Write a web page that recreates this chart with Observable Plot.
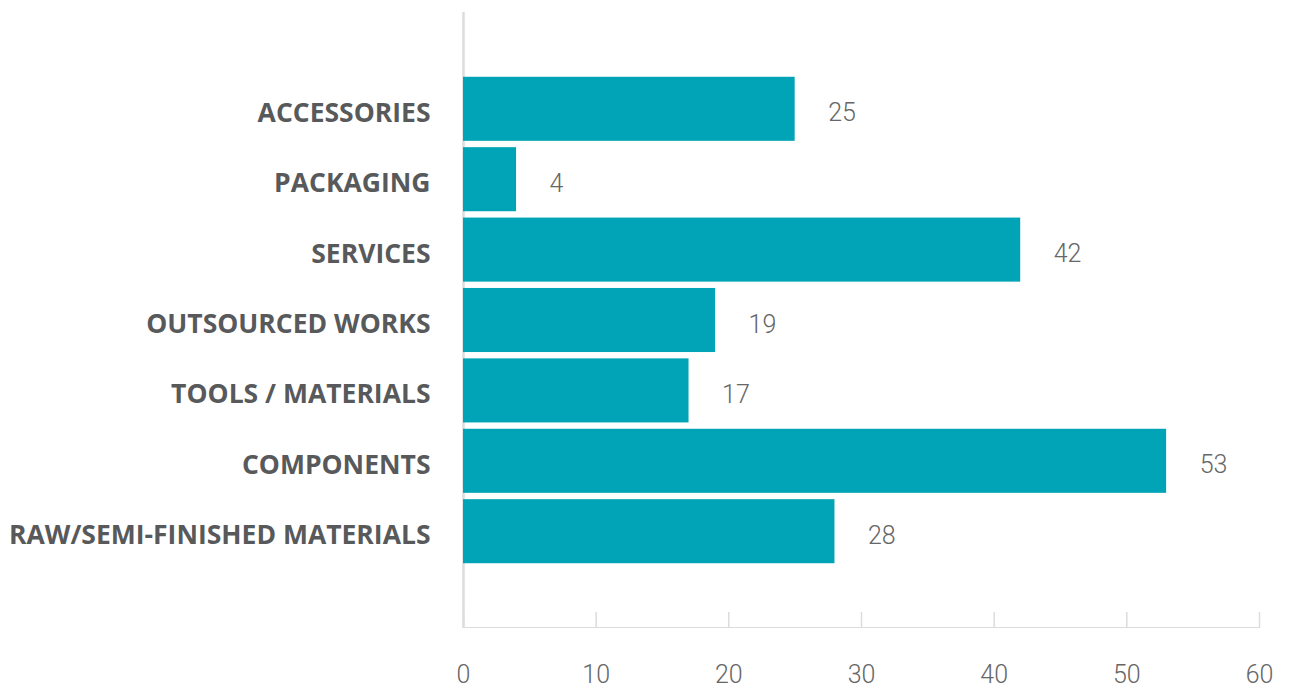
<!DOCTYPE html>
<html>
<head>
<meta charset="utf-8">
<script src="https://cdn.jsdelivr.net/npm/d3@7"></script>
<script src="https://cdn.jsdelivr.net/npm/@observablehq/plot@0.6"></script>
<style>
  html, body { margin: 0; padding: 0; background: #fff; }
  #chart svg { display: block; }
</style>
</head>
<body>
<div id="chart"></div>
<script>
const categories = [
  "ACCESSORIES",
  "PACKAGING",
  "SERVICES",
  "OUTSOURCED WORKS",
  "TOOLS / MATERIALS",
  "COMPONENTS",
  "RAW/SEMI-FINISHED MATERIALS"
];
const values = [25, 4, 42, 19, 17, 53, 28];
const xTicks = [0, 10, 20, 30, 40, 50, 60];

const data = categories.map((c, i) => ({category: c, value: values[i]}));

const chart = Plot.plot({
  width: 1296,
  height: 688,
  marginTop: 12,
  marginBottom: 60,
  marginLeft: 463,
  marginRight: 37,
  style: {background: "#fff", overflow: "visible"},
  x: {domain: [0, 60]},
  y: {domain: categories, paddingInner: 0.09, paddingOuter: 0.92, round: false},
  marks: [
    Plot.ruleX(xTicks, {x: d => d, stroke: "#dcdcdc", strokeWidth: 1.5, insetTop: 600}),
    Plot.rect([0], {x1: () => 0, x2: () => 60, fill: "#dcdcdc", insetTop: 615}),
    Plot.ruleX([0], {stroke: "#dcdcdc", strokeWidth: 2.5}),
    Plot.barX(data, {x: "value", y: "category", fill: "#00a4b6"}),
    Plot.text(data, {
      x: "value", y: "category", text: d => String(d.value),
      textAnchor: "start", dx: 33, dy: 4, fill: "#666",
      fontSize: 25, fontWeight: 300, fontFamily: "Roboto, Lato, sans-serif"
    }),
    Plot.axisY({
      tickSize: 0, tickPadding: 33, label: null, dy: 4,
      fontSize: 26.5, fontWeight: 700, fill: "#58595b",
      fontFamily: "'Open Sans', sans-serif"
    }),
    Plot.axisX(xTicks, {
      anchor: "bottom", tickSize: 0, tickPadding: 37, label: null,
      fontSize: 25, fontWeight: 300, fill: "#666",
      fontFamily: "Roboto, Lato, sans-serif"
    })
  ]
});
document.getElementById("chart").appendChild(chart);
</script>
</body>
</html>
